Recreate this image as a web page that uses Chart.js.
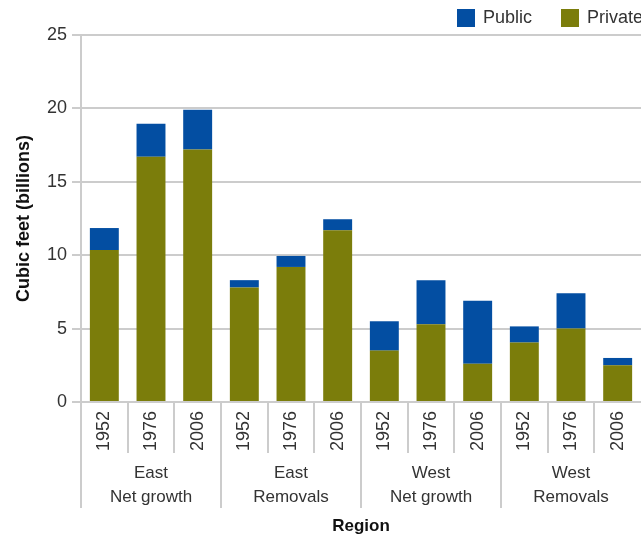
<!DOCTYPE html>
<html>
<head>
<meta charset="utf-8">
<script src="https://cdn.jsdelivr.net/npm/chart.js@4"></script>
<style>
  body { margin: 0; background: #ffffff; overflow: hidden; }
</style>
</head>
<body>
<canvas id="chartKayu" width="641" height="536"></canvas>
<script>

const years = [
  '1952', '1976', '2006',
  '1952', '1976', '2006',
  '1952', '1976', '2006',
  '1952', '1976', '2006'
];

const groups = [
  ['East', 'Net growth'],
  ['East', 'Removals'],
  ['West', 'Net growth'],
  ['West', 'Removals']
];

const privateValues = [10.35, 16.7, 17.2, 7.8, 9.2, 11.7, 3.5, 5.3, 2.6, 4.05, 5.0, 2.5];

const publicValues = [1.5, 2.25, 2.7, 0.5, 0.75, 0.75, 2.0, 3.0, 4.3, 1.1, 2.4, 0.5];

const yTicks = [0, 5, 10, 15, 20, 25];

const warnaPrivate = '#7b7d0b';
const warnaPublic = '#034ea2';
const warnaGaris = '#cccccc';
const warnaTeks = '#333333';
const fontNama = '"Liberation Sans", Arial, sans-serif';

// garis pemisah, label grup, judul sumbu x, legenda
const pluginBawah = {

  id: 'pluginBawah',

  afterDraw(chart) {

    const ctx = chart.ctx;
    const x = chart.scales.x;
    const area = chart.chartArea;
    const n = years.length;

    const batas = [];

    for(let i = 0; i < n; i++) {

      if(i === 0) {

        batas.push(area.left);
      } else {

        batas.push(
          (x.getPixelForValue(i - 1) + x.getPixelForValue(i)) / 2
        );
      }
    }

    ctx.save();

    ctx.strokeStyle = warnaGaris;
    ctx.lineWidth = 2;

    batas.forEach((bx, i) => {

      const panjang = (i % 3 === 0) ? 106 : 51;

      ctx.beginPath();
      ctx.moveTo(Math.round(bx), area.bottom);
      ctx.lineTo(Math.round(bx), area.bottom + panjang);
      ctx.stroke();
    });

    ctx.fillStyle = warnaTeks;
    ctx.font = '17px ' + fontNama;
    ctx.textAlign = 'center';
    ctx.textBaseline = 'middle';

    groups.forEach((g, gi) => {

      const kiri = batas[gi * 3];
      const kanan = (gi * 3 + 3 < n) ? batas[gi * 3 + 3] : area.right;
      const tengah = (kiri + kanan) / 2;

      ctx.fillText(g[0], tengah, 473);
      ctx.fillText(g[1], tengah, 497);
    });

    ctx.font = 'bold 17px ' + fontNama;
    ctx.fillStyle = '#111111';
    ctx.fillText('Region', (area.left + area.right) / 2, 526);

    // legenda
    ctx.font = '18px ' + fontNama;
    ctx.textAlign = 'left';

    ctx.fillStyle = warnaPublic;
    ctx.fillRect(457, 9, 18, 18);
    ctx.fillStyle = warnaTeks;
    ctx.fillText('Public', 483, 18);

    ctx.fillStyle = warnaPrivate;
    ctx.fillRect(561, 9, 18, 18);
    ctx.fillStyle = warnaTeks;
    ctx.fillText('Private', 587, 18);

    ctx.restore();
  }
};

const ctx =
  document
    .getElementById('chartKayu')
    .getContext('2d');

const chart = new Chart(ctx, {

  type: 'bar',

  data: {

    labels: years,

    datasets: [

      {
        label: 'Private',
        data: privateValues,
        backgroundColor: warnaPrivate,
        borderWidth: 0,
        barPercentage: 1,
        categoryPercentage: 0.62
      },

      {
        label: 'Public',
        data: publicValues,
        backgroundColor: warnaPublic,
        borderWidth: 0,
        barPercentage: 1,
        categoryPercentage: 0.62
      }
    ]
  },

  options: {

    responsive: false,
    animation: false,

    layout: {
      padding: { top: 35, left: 0, right: 0, bottom: 0 }
    },

    plugins: {

      legend: { display: false },
      tooltip: { enabled: false }
    },

    scales: {

      x: {

        stacked: true,

        grid: {
          display: true,
          drawOnChartArea: false,
          drawTicks: false
        },

        border: {
          color: warnaGaris,
          width: 2
        },

        ticks: {
          color: warnaTeks,
          font: { family: fontNama, size: 18 },
          minRotation: 90,
          maxRotation: 90,
          padding: 9
        },

        afterFit(scale) {
          scale.height = 134;
          scale.paddingLeft = 0;
          scale.paddingRight = 0;
        }
      },

      y: {

        stacked: true,
        min: 0,
        max: 25,

        grid: {
          color: warnaGaris,
          lineWidth: 2,
          tickLength: 9
        },

        border: {
          color: warnaGaris,
          width: 2
        },

        ticks: {
          stepSize: 5,
          color: warnaTeks,
          padding: 5,
          font: { family: fontNama, size: 18 },
          callback: function(value) {
            return yTicks.includes(value) ? value : '';
          }
        },

        title: {
          display: true,
          text: 'Cubic feet (billions)',
          color: '#111111',
          font: { family: fontNama, size: 18, weight: 'bold' },
          padding: { top: 13, bottom: 0 }
        },

        afterFit(scale) {
          scale.width = 81;
        }
      }
    }
  },

  plugins: [pluginBawah]
});

</script>
</body>
</html>
